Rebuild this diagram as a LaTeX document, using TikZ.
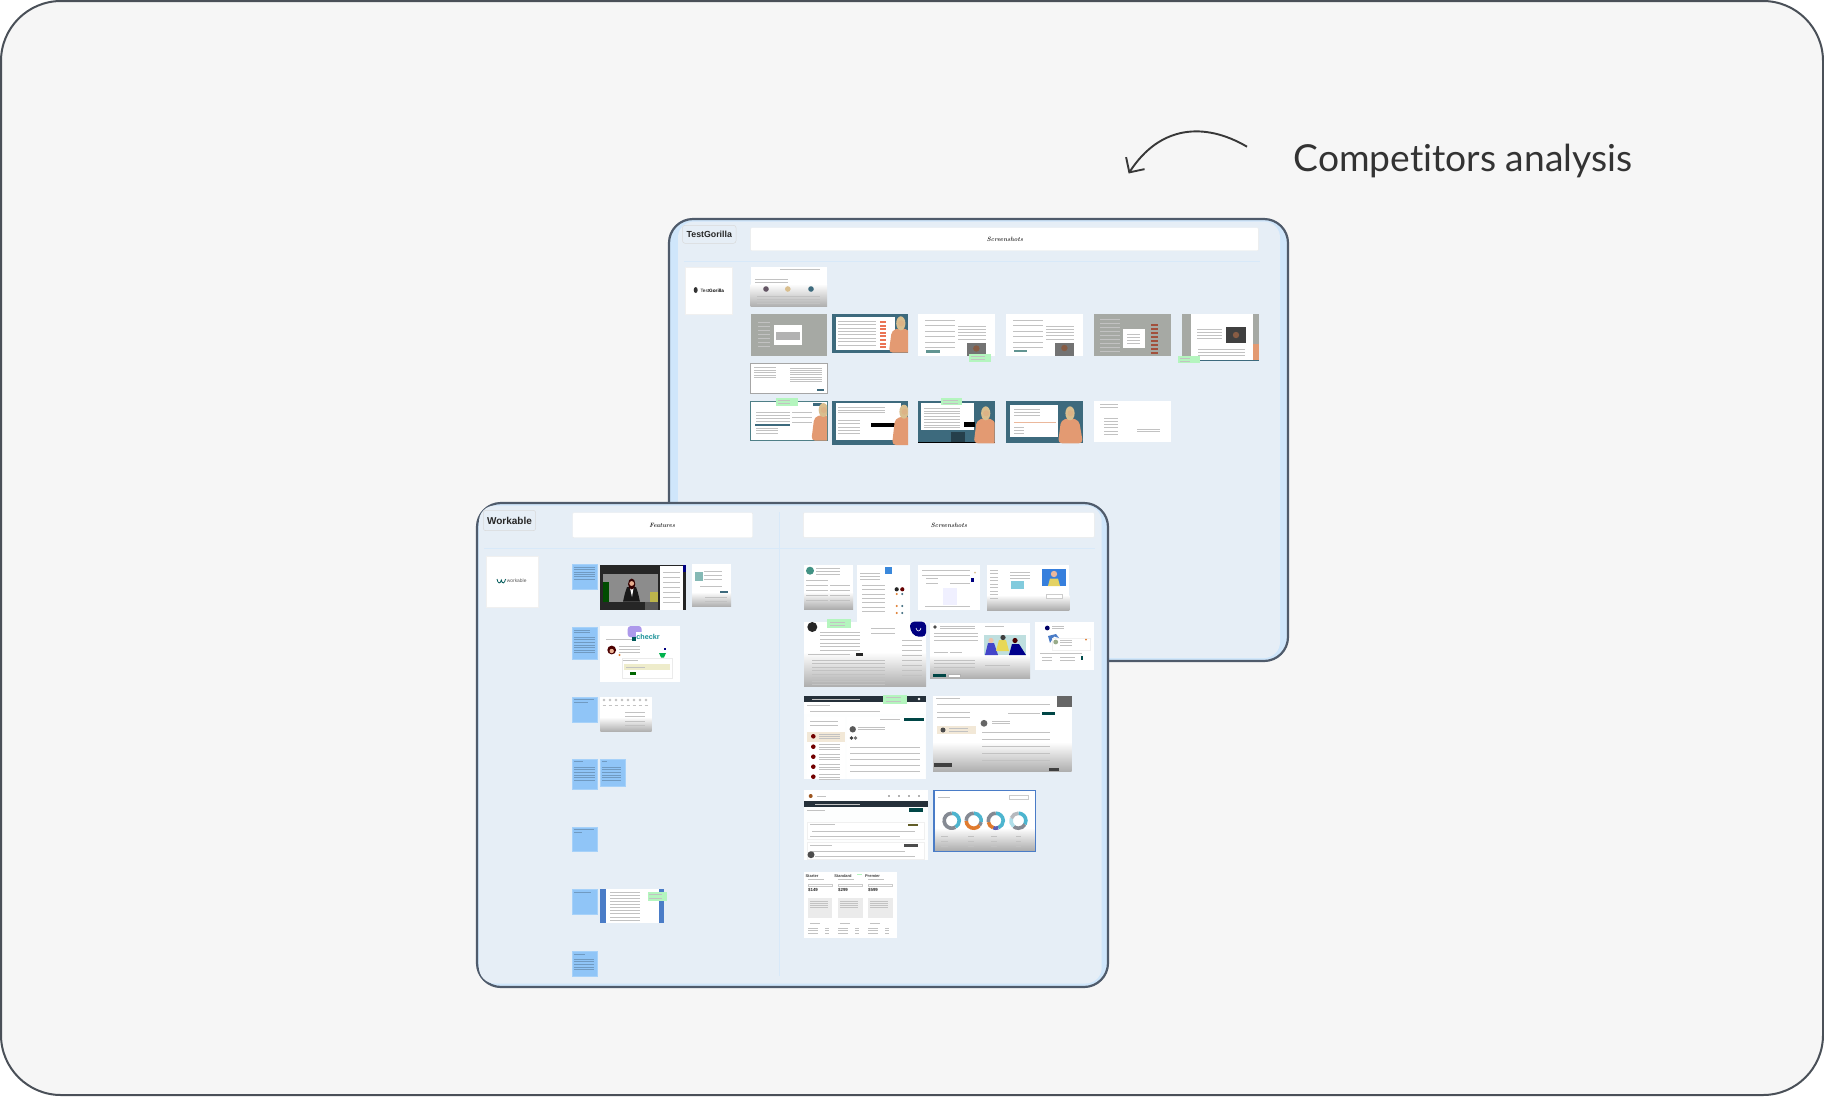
\documentclass[tikz,border=0pt]{standalone}
\usepackage{fontspec}
\setmainfont{Liberation Sans}
\newfontfamily\titlefont[Ligatures=CommonOff]{Lato}
\newfontfamily\notefont{Latin Modern Roman}
\usetikzlibrary{arrows.meta}
\definecolor{pagegray}{HTML}{F6F6F6}
\definecolor{edgegray}{HTML}{4A5058}
\definecolor{panelblue}{HTML}{E6EEF6}
\definecolor{bandblue}{HTML}{CFE6FB}
\definecolor{paneledge}{HTML}{4F5B6B}
\definecolor{notesblue}{HTML}{90C5F7}
\definecolor{notegreen}{HTML}{B4F5BE}
\definecolor{tealback}{HTML}{3D6A7D}
\definecolor{navybar}{HTML}{25303A}
\definecolor{dimgray}{HTML}{A6A9A4}
\definecolor{shirt}{HTML}{E39A72}
\definecolor{hair}{HTML}{D9BE8E}
\definecolor{ringteal}{HTML}{4DB5CF}
\definecolor{ringgray}{HTML}{858A93}
\definecolor{ringorange}{HTML}{E07B2E}
\definecolor{framblue}{HTML}{4A7CC7}
\tikzset{
  panelline/.style={draw=paneledge, fill=bandblue, line width=2.2pt, rounded corners=24pt},
  panelinner/.style={fill=panelblue, rounded corners=16pt},
  rule/.style={draw=bandblue!60!panelblue, line width=.8pt},
  tagbox/.style={draw=black!15, fill=panelblue, line width=.5pt, rounded corners=2.5pt},
  headbox/.style={draw=black!8, fill=white, line width=.4pt, rounded corners=1pt},
  logobox/.style={draw=black!6, fill=white, line width=.3pt},
  stickynote/.style={fill=notesblue, draw=notesblue!80!white, line width=.3pt},
  greennote/.style={fill=notegreen},
  shot/.style={fill=white},
  faded/.style={top color=white, bottom color=black!32},
  greekbar/.style={draw=black!24, line width=.5pt},
  notebar/.style={draw=black!22!notesblue, line width=.4pt},
  handlabel/.style={font=\notefont\bfseries\itshape\fontsize{6.2}{6}\selectfont, text=black!85, inner sep=0pt},
}
\newcommand{\greeklines}[5]{\foreach \n in {1,...,#5}{\draw[greekbar] (#1,{#3+(\n-1)*#4}) -- (#2,{#3+(\n-1)*#4});}}
\newcommand{\notelines}[5]{\foreach \n in {1,...,#5}{\draw[notebar] (#1,{#3+(\n-1)*#4}) -- (#2,{#3+(\n-1)*#4});}}
\newcommand{\avatar}[4]{\fill[#4] (#1,#2) circle[radius=#3];}
\newcommand{\fadeout}[4]{\shade[faded] (#1,#2) rectangle (#3,#4);}
\newcommand{\presenter}[4]{\begin{scope}[shift={(#1,#2)}]
  \clip (-16,-9) rectangle (#4,#3);
  \fill[shirt, rounded corners=4pt] (-12,#3) -- (-9,7) -- (0,4.5) -- (9,7) -- (13,#3) -- cycle;
  \fill[hair] (0,0) ellipse[x radius=4.6, y radius=7];
  \fill[hair!70!shirt] (.5,0) circle[radius=3];
\end{scope}}
\newcommand{\ringpart}[5]{\draw[#5, line width=3.6pt] (#1,#2) ++(#3:7.5) arc[start angle=#3, end angle=#4, radius=7.5];}
\begin{document}
\begin{tikzpicture}[x=1pt, y=-1pt]
  \useasboundingbox (0,0) rectangle (1824,1096);
  \draw[fill=pagegray, draw=edgegray, line width=2pt, rounded corners=60pt] (1,1) rectangle (1823,1095);

  \node[font=\titlefont\fontsize{37.2}{37}\selectfont, text=black!80, inner sep=0pt, anchor=base west] (title) at (1293.5,171.5) {Competitors analysis};
  \coordinate (arrowstart) at (1247,146.7);
  \coordinate (arrowend) at (1128.6,173.5);
  \draw[-{Straight Barb[length=11pt, width=22pt]}, black!78, line width=1.9pt] (arrowstart) .. controls (1205,122) and (1160,125) .. (arrowend);

  % back panel
  \draw[panelline] (669,219) rectangle (1288,661);
  \fill[panelinner] (678,221.5) rectangle (1280,658);
  \draw[tagbox] (682.5,225.3) rectangle (736,243.3);
  \node[font=\bfseries\fontsize{8.8}{9}\selectfont, text=black!85, inner sep=0pt] (gorillaname) at (709.3,234.5) {TestGorilla};
  \draw[headbox] (750.6,227.7) rectangle (1258.4,250.7);
  \node[handlabel] (gorillahead) at (1005,239) {Screenshots};
  \draw[rule] (684,261) -- (1260,261);
  \draw[logobox] (685,266.7) rectangle (732.2,314.3);
  \fill[black!80] (695.7,290) ellipse[x radius=2, y radius=3];
  \node[font=\fontsize{4.7}{5}\selectfont, inner sep=0pt] (gorillalogo) at (712.3,291) {Test\textbf{Gorilla}};

  \fill[shot] (750.6,266.7) rectangle (827,306.7);
  \fadeout{750.6}{284}{827}{306.7}
  \greeklines{755}{788}{279.5}{2.5}{2}
  \greeklines{780}{820}{269}{0}{1}
  \avatar{766}{289}{2.8}{tealback!80!red}
  \avatar{787.8}{289}{2.8}{hair}
  \avatar{811}{289}{2.8}{tealback}
  \greeklines{757}{820}{296}{3.5}{3}

  \fill[dimgray] (750.6,314.3) rectangle (827,355.7);
  \greeklines{758}{770}{322}{4}{7}
  \fill[white] (773.9,325) rectangle (802,345);
  \fill[black!30] (776,331.7) rectangle (800,340);

  \fill[tealback] (831.8,314.3) rectangle (908.2,352.7);
  \fill[white] (835.5,317.3) rectangle (894.7,350);
  \greeklines{838}{876}{321}{3.4}{8}
  \foreach \yy in {321,324.6,...,347}{\fill[shirt!75!red] (880,\yy) rectangle (886,\yy+2);}
  \presenter{900.8}{323.3}{29.4}{7.4}

  \fill[shot] (918,314.3) rectangle (994.7,355.7);
  \greeklines{925}{955}{320}{5.5}{6}
  \greeklines{958}{986}{326}{3.2}{5}
  \fill[black!55] (967,343.3) rectangle (985.7,355.7);
  \avatar{976.3}{348.5}{3.2}{shirt!60!black}
  \fill[tealback!70!notegreen] (926,350) rectangle (940,352.5);
  \fill[greennote] (969.4,354.3) rectangle (991.4,361.7);
  \greeklines{971}{985}{356.5}{2.6}{2}

  \fill[shot] (1006,314.3) rectangle (1082.9,355.7);
  \greeklines{1013}{1043}{320}{5.5}{6}
  \greeklines{1046}{1074}{326}{3.2}{5}
  \fill[black!55] (1055,342.7) rectangle (1073.9,355.7);
  \avatar{1064.4}{348}{3.2}{shirt!60!black}
  \fill[tealback!70!notegreen] (1014,349.5) rectangle (1027,352);

  \fill[dimgray] (1093.9,314.3) rectangle (1170.6,355.7);
  \greeklines{1100}{1120}{319}{4}{9}
  \foreach \yy in {324,328,...,354}{\fill[hair!60!red!70!black] (1151,\yy) rectangle (1158,\yy+2.4);}
  \fill[white] (1123.3,329) rectangle (1144.9,348.3);
  \greeklines{1127}{1140}{334}{3.2}{4}

  \fill[dimgray] (1182,314.3) rectangle (1258.8,358);
  \fill[white] (1191,314.3) rectangle (1252.7,359.5);
  \draw[tealback, line width=.8pt] (1191,360) -- (1258.8,360);
  \greeklines{1197}{1222}{329}{3.2}{4}
  \greeklines{1198}{1245}{349}{3}{3}
  \fill[black!75] (1226,327.3) rectangle (1246,342.7);
  \avatar{1236}{335}{3.2}{shirt!60!black}
  \fill[shirt] (1253,344) rectangle (1258.8,359.5);
  \fill[greennote] (1178.4,356) rectangle (1200,363.3);
  \greeklines{1180}{1190}{358.5}{2.6}{2}

  \draw[shot, draw=black!35, line width=.8pt] (750.6,363.3) rectangle (827,393.3);
  \greeklines{754}{776}{367.5}{2.5}{5}
  \greeklines{790}{822}{368}{2.2}{7}
  \fill[tealback] (817,388.5) rectangle (824,391);

  \draw[shot, draw=tealback!85!notegreen, line width=1pt] (750.6,401) rectangle (827,440.7);
  \greeklines{756}{790}{412.5}{3}{4}
  \greeklines{792}{812}{412.5}{5}{3}
  \fill[tealback] (755,424) rectangle (790,425.7);
  \greeklines{756}{778}{428}{2.5}{3}
  \fill[tealback] (813,403) rectangle (822,405.5);
  \presenter{823.3}{410}{30.7}{3.7}
  \fill[greennote] (776.3,398.3) rectangle (798,405.7);
  \greeklines{778}{790}{400.5}{2.6}{2}

  \fill[tealback] (831.8,401) rectangle (908.2,445);
  \fill[white] (835.5,402.7) rectangle (900.8,440);
  \greeklines{838}{885}{407.5}{2.6}{3}
  \greeklines{838}{860}{420}{3.4}{5}
  \fill[black] (871,422.7) rectangle (894.7,426.7);
  \presenter{904}{411.7}{33.3}{4.2}

  \fill[tealback] (918,401) rectangle (994.7,443.3);
  \fill[white] (921,403.3) rectangle (974.3,430);
  \greeklines{924}{960}{408}{2.8}{8}
  \fill[black] (964,422) rectangle (975,427);
  \fill[black] (918,441.7) rectangle (994.7,443.3);
  \fill[tealback!60!black] (950.6,431.7) rectangle (965.3,441.7);
  \presenter{985.7}{413.3}{30}{9}
  \fill[greennote] (940.8,398.3) rectangle (962.4,405);
  \greeklines{943}{958}{400.5}{2.4}{2}

  \fill[tealback] (1006,401) rectangle (1082.9,443.3);
  \fill[white] (1010,405) rectangle (1058,436.7);
  \greeklines{1014}{1040}{409}{3.2}{3}
  \fill[shirt!70!white] (1014,422) rectangle (1056,423.3);
  \greeklines{1014}{1024}{427}{3.2}{3}
  \presenter{1070}{413.3}{30}{12.9}

  \fill[shot] (1093.9,401) rectangle (1170.6,442.3);
  \greeklines{1100}{1118}{404.5}{3.2}{2}
  \greeklines{1104}{1118}{418}{3.2}{6}
  \greeklines{1137}{1160}{429}{2.5}{2}

  % front panel
  \draw[panelline] (477,503) rectangle (1108,987);
  \fill[panelinner] (479,505.5) rectangle (1101.7,983.5);
  \draw[tagbox] (483.3,510.3) rectangle (535.7,530.7);
  \node[font=\bfseries\fontsize{10}{10}\selectfont, text=black!85, inner sep=0pt] (workablename) at (509.5,520.5) {Workable};
  \draw[headbox] (572.7,512.7) rectangle (752.7,537.7);
  \node[handlabel] (featurehead) at (662.3,525) {Features};
  \draw[headbox] (803.3,512.7) rectangle (1094.3,537.3);
  \node[handlabel] (workablehead) at (949,525) {Screenshots};
  \draw[rule] (484,548.3) -- (1095,548.3);
  \draw[rule] (779.3,512) -- (779.3,976);
  \draw[logobox] (485.7,555.7) rectangle (537.7,607.3);
  \draw[teal!70!black, line width=.8pt] (497,579) .. controls (497.8,584) and (500.5,584) .. (501.3,580) .. controls (502,584) and (504.7,584) .. (505.5,579);
  \node[font=\fontsize{4.9}{5}\selectfont, text=black!65, inner sep=0pt] (workablelogo) at (516.7,581.2) {workable};

  \draw[stickynote] (572.3,564.3) rectangle (597,589.3);
  \notelines{574}{595}{567}{2.4}{6}
  \draw[stickynote] (572.3,627) rectangle (597,659);
  \notelines{574}{590}{630}{2.2}{2}
  \notelines{574}{595}{637}{2.6}{7}
  \draw[stickynote] (572.3,696.7) rectangle (597,721.7);
  \notelines{574}{594}{699}{3}{1}
  \notelines{574}{588}{702}{3}{1}
  \draw[stickynote] (572.3,759.3) rectangle (597,788.7);
  \notelines{574}{583}{761.5}{3}{1}
  \notelines{574}{595}{767}{2.6}{6}
  \draw[stickynote] (600.3,759.3) rectangle (625,786.3);
  \notelines{602}{607}{761.5}{3}{1}
  \notelines{602}{621}{767}{2.6}{6}
  \draw[stickynote] (572.3,826.7) rectangle (597,851.3);
  \notelines{574}{594}{829.5}{3}{1}
  \notelines{574}{582}{832.5}{3}{1}
  \draw[stickynote] (572.3,889) rectangle (597,914);
  \notelines{574}{591}{892}{3}{1}
  \draw[stickynote] (572.3,951.3) rectangle (597,976);
  \notelines{574}{585}{954}{3}{1}
  \notelines{574}{594}{959}{2.6}{5}

  \fill[black!85] (600.3,565) rectangle (686,610);
  \fill[black!45!white] (603.3,574) rectangle (658.3,601.7);
  \fill[black!70!green] (603,582) rectangle (609,601.7);
  \fill[olive!60!white] (650,592) rectangle (658,601.7);
  \fill[white] (660,565.7) rectangle (683.3,610);
  \fill[blue!50!black] (683.3,565) rectangle (686,572);
  \greeklines{663}{680}{572}{5}{7}
  \fill[black!65] (645,601.7) rectangle (658.3,610);
  \fill[black!90] (625,593) -- (627,587) -- (636,587) -- (638,593) -- (640,601.7) -- (623,601.7) -- cycle;
  \fill[white] (630,588) -- (633.5,588) -- (632,597) -- cycle;
  \fill[black!80!red] (631.7,584) ellipse[x radius=3.6, y radius=5.5];
  \avatar{631.7}{583.5}{2.4}{shirt!80!white}

  \fill[shot] (692,564.3) rectangle (731,606.7);
  \fadeout{692}{592}{731}{606.7}
  \fill[ringteal!60!hair] (695,572.3) rectangle (702.7,581);
  \greeklines{704}{722}{571}{4}{3}
  \greeklines{700}{722}{586}{4}{1}
  \fill[tealback] (720,591) rectangle (727.7,592.7);
  \greeklines{705}{727}{597}{4}{2}

  \fill[shot] (600.3,626) rectangle (680,682);
  \fill[violet!40!blue!40!white, rounded corners=3pt] (627.7,626) rectangle (641.7,637.3);
  \greeklines{606}{632}{639}{0}{1}
  \fill[teal!70!black] (632,637) rectangle (636,641);
  \fill[white] (635.7,631.7) rectangle (660,643.3);
  \node[font=\bfseries\fontsize{7.2}{7}\selectfont, text=teal!70!ringteal, inner sep=0pt] (checkrname) at (648,637.3) {checkr};
  \avatar{611.7}{650}{4.4}{black!70!red}
  \avatar{611.7}{651}{2.2}{shirt!75!white}
  \greeklines{619}{640}{646}{3.2}{3}
  \avatar{619.5}{655}{1.1}{ringorange}
  \fill[teal!60!green] (659,653) -- (666,653) -- (664,657.5) -- (661,657.5) -- cycle;
  \fill[blue!50!black] (664,648) rectangle (666,650);
  \draw[draw=black!8, fill=white, line width=.3pt] (621.7,658.3) rectangle (672.3,678.3);
  \greeklines{623}{638}{660}{0}{1}
  \fill[olive!15!white] (624,664) rectangle (670,670);
  \greeklines{626}{645}{667}{0}{1}
  \fill[green!40!black] (630,672.3) rectangle (636,675);

  \fill[shot] (600.3,696.7) rectangle (651.7,731.7);
  \fadeout{600.3}{717}{651.7}{731.7}
  \foreach \xx in {604,610,...,646}{\avatar{\xx}{700}{1.3}{black!25}
    \draw[greekbar] (\xx-1.5,705) -- (\xx+1.5,705);}
  \greeklines{625}{645}{712}{4.5}{4}

  \fill[framblue] (600.3,889) rectangle (663.7,923.3);
  \fill[white] (606.3,889) rectangle (659,923.3);
  \greeklines{610}{640}{892}{3.1}{10}
  \fill[greennote] (647.7,892) rectangle (667.3,900.7);
  \greeklines{649}{662}{894}{3.8}{2}

  \fill[shot] (804,565.3) rectangle (853,609);
  \fadeout{804}{592}{853}{609}
  \avatar{810}{570.7}{4}{teal!70!hair}
  \greeklines{816}{840}{568}{3}{3}
  \greeklines{806}{828}{580}{5}{5}
  \greeklines{830}{850}{585}{5}{4}

  \fill[shot] (856.7,564.7) rectangle (910,621.7);
  \fill[ringteal!75!blue] (885.3,567) rectangle (892,574);
  \greeklines{860}{880}{573}{3}{3}
  \greeklines{862}{885}{585}{4.4}{7}
  \avatar{896.7}{589.3}{2.1}{black!85}
  \avatar{902.3}{589.3}{2.1}{black!60!red}
  \foreach \yy in {594,606,613}{\avatar{896.7}{\yy}{1.1}{ringorange}\avatar{902.3}{\yy}{1.1}{tealback}}

  \fill[shot] (917.7,564.7) rectangle (980,610);
  \fill[blue!6] (943.3,588) rectangle (956.7,605);
  \greeklines{922}{970}{570}{5}{2}
  \greeklines{926}{938}{578}{5}{2}
  \greeklines{950}{970}{583}{0}{1}
  \greeklines{925}{970}{606}{0}{1}
  \fill[blue!50!black] (971,577.7) rectangle (974,582);
  \avatar{975}{572.7}{1}{hair}

  \fill[shot] (987,564.7) rectangle (1069.3,610);
  \fadeout{987}{595}{1069.3}{610}
  \fill[ringteal!70!blue] (1042.3,569.3) rectangle (1065.7,586);
  \avatar{1054}{574}{3.2}{shirt!70!white}
  \fill[hair!70!yellow] (1048,586) -- (1050,578.5) -- (1058,578.5) -- (1060,586) -- cycle;
  \fill[ringteal!70!white] (1011,581) rectangle (1024.3,589.3);
  \greeklines{990}{998}{570}{3.5}{9}
  \greeklines{1010}{1030}{572}{3}{3}
  \fill[white, draw=black!20, line width=.3pt] (1046,594) rectangle (1062,598);

  \fill[shot] (804,621.7) rectangle (926,686.7);
  \fadeout{804}{652}{926}{686.7}
  \avatar{812.3}{627}{5}{black!85}
  \greeklines{820}{860}{632}{3.6}{6}
  \greeklines{871}{895}{628}{5}{2}
  \greeklines{808}{850}{654}{0}{1}
  \fill[black!85] (856,653) rectangle (862.7,656);
  \greeklines{812}{885}{660}{3.5}{8}
  \greeklines{902}{922}{640}{5}{8}
  \fill[greennote] (827,619.3) rectangle (851,628.3);
  \greeklines{830}{845}{622}{3}{2}
  \fill[blue!50!black, rounded corners=4pt] (926,621.7) -- (910,621.7) -- (910,630) -- (915,636.7) -- (926,636.7) -- cycle;
  \draw[white, line width=.6pt] (916,628) .. controls (917,632) and (920,632) .. (921,628);

  \fill[shot] (930,623.3) rectangle (1030,678.7);
  \fadeout{930}{655}{1030}{678.7}
  \avatar{935}{627}{1.8}{black!70}
  \greeklines{940}{975}{626}{2.6}{2}
  \greeklines{934}{978}{633}{3.4}{3}
  \greeklines{934}{948}{652}{0}{1}
  \greeklines{950}{962}{652}{0}{1}
  \greeklines{934}{975}{660}{3.5}{3}
  \greeklines{985}{1004}{626}{0}{1}
  \greeklines{985}{1010}{665}{0}{1}
  \fill[teal!25!white] (984,635) rectangle (1026,655);
  \fill[blue!50!ringgray] (985,655) -- (988,643) -- (994,643) -- (998,655) -- cycle;
  \avatar{991}{640.5}{2.6}{shirt!60!white}
  \fill[hair!60!yellow] (996,651) -- (999,640) -- (1006,640) -- (1009,651) -- cycle;
  \avatar{1003}{637.5}{2.6}{black!75}
  \fill[blue!55!black] (1009,655) -- (1012,644) -- (1019,644) -- (1026,655) -- cycle;
  \avatar{1015}{640.5}{2.6}{black!70!red}
  \fill[teal!55!black] (933.3,673.7) rectangle (945.7,676.7);
  \draw[draw=black!30, fill=white, line width=.3pt] (948,673.7) rectangle (960,676.7);

  \fill[shot] (1035.3,622) rectangle (1094,670);
  \avatar{1047.3}{628}{2.4}{blue!40!black}
  \greeklines{1052}{1064}{626}{2.5}{2}
  \fill[framblue] (1048,636) -- (1056,634) -- (1059,638) -- (1054,636.5) -- (1050,643) -- cycle;
  \draw[draw=black!6, fill=white, line width=.3pt] (1052,638) rectangle (1090,650);
  \avatar{1055.7}{642}{2.4}{hair!70!teal}
  \greeklines{1060}{1072}{640}{2.5}{3}
  \avatar{1086}{639.5}{1}{ringorange}
  \greeklines{1040}{1082}{653}{0}{1}
  \greeklines{1042}{1052}{657}{3}{2}
  \greeklines{1060}{1075}{657}{3}{2}
  \fill[teal!60!black] (1081,655.7) rectangle (1083.3,660);

  \fill[white!92!panelblue] (804,696) rectangle (926,779.3);
  \fill[navybar] (804,696) rectangle (926,701.7);
  \greeklines{812}{860}{698.8}{0}{1}
  \fill[white] (804,701.7) rectangle (926,714);
  \greeklines{807}{830}{705.5}{0}{1}
  \greeklines{810}{880}{711}{0}{1}
  \fill[white] (807.3,717) rectangle (845,779.3);
  \fill[white] (846.7,717) rectangle (925,779.3);
  \fill[hair!35!white] (807.3,732.3) rectangle (845,742.3);
  \foreach \yy in {736.3,746.7,756.7,766.7,776.7}{\avatar{813.3}{\yy}{2.3}{black!55!red}
    \greeklines{819}{840}{\yy-2}{2.2}{3}}
  \greeklines{810}{838}{721}{4}{2}
  \avatar{852.7}{729.3}{3.2}{black!65}
  \greeklines{858}{885}{727}{2.5}{2}
  \fill[teal!55!black] (904,718.3) rectangle (924,721);
  \greeklines{880}{900}{719.5}{0}{1}
  \greeklines{850}{920}{747}{6}{5}
  \avatar{851.5}{738}{1.8}{black!75}
  \avatar{855.5}{738}{1.8}{black!55}
  \fill[greennote] (883.3,695) rectangle (907.3,704);
  \greeklines{886}{901}{697.5}{3.5}{2}
  \avatar{919}{699}{1.3}{white}

  \fill[shot] (933,696) rectangle (1071.7,771.7);
  \fadeout{933}{742}{1071.7}{771.7}
  \greeklines{936}{960}{698.5}{0}{1}
  \greeklines{937}{1050}{704}{0}{1}
  \fill[hair!35!white] (936.7,726) rectangle (975.7,734.3);
  \avatar{943}{730}{2.5}{black!70}
  \greeklines{937}{970}{712}{5}{2}
  \greeklines{949}{968}{728.5}{2.5}{2}
  \avatar{984}{723.3}{3.4}{black!60}
  \greeklines{992}{1010}{721}{2.6}{2}
  \fill[teal!55!black] (1041.7,712) rectangle (1055.3,715);
  \greeklines{1008}{1040}{713.5}{0}{1}
  \greeklines{982}{1050}{732}{7}{5}
  \fill[black!60] (1056.7,696) rectangle (1071.7,707.3);
  \fill[black!75] (934,763.3) rectangle (952.3,767.3);
  \fill[black!75] (1049.3,768.3) rectangle (1059.3,770.7);

  \fill[white!92!panelblue] (804,790) rectangle (927.7,860);
  \fill[white] (804,790) rectangle (927.7,801.3);
  \fill[navybar] (804,801.3) rectangle (927.7,806.7);
  \greeklines{815}{860}{804}{0}{1}
  \avatar{810.7}{796}{2}{ringorange!70!black}
  \greeklines{817}{826}{796}{0}{1}
  \foreach \xx in {889,899,909,919}{\avatar{\xx}{796}{.9}{black!60}}
  \greeklines{807}{825}{810}{0}{1}
  \fill[teal!55!black] (909,808.3) rectangle (923.3,811.7);
  \draw[shot, draw=black!6, line width=.3pt] (807,821.7) rectangle (924,839.3);
  \draw[shot, draw=black!6, line width=.3pt] (807,842) rectangle (924,859.3);
  \greeklines{810}{835}{824.5}{0}{1}
  \fill[olive!60!black] (907.7,823.7) rectangle (917.7,826);
  \greeklines{812}{915}{831.5}{0}{1}
  \greeklines{810}{900}{836.5}{0}{1}
  \greeklines{810}{832}{845}{0}{1}
  \fill[black!70] (904.3,844.3) rectangle (917.7,847);
  \greeklines{812}{905}{851}{0}{1}
  \greeklines{815}{915}{856.5}{0}{1}
  \avatar{811}{854.7}{3.5}{black!70}

  \draw[shot, draw=framblue, line width=1.2pt] (933.3,790.3) rectangle (1035.4,851);
  \fadeout{934}{828}{1034.8}{850.4}
  \fill[framblue] (933,790) rectangle (935,851);
  \greeklines{938}{950}{797}{0}{1}
  \draw[black!20, line width=.3pt] (1009,795) rectangle (1028,799);
  \ringpart{951.7}{820.7}{-90}{60}{ringteal}
  \ringpart{951.7}{820.7}{60}{270}{ringgray}
  \ringpart{973.7}{820.7}{-90}{10}{ringteal}
  \ringpart{973.7}{820.7}{10}{40}{ringgray}
  \ringpart{973.7}{820.7}{40}{180}{ringorange}
  \ringpart{973.7}{820.7}{180}{270}{ringgray}
  \ringpart{995.7}{820.7}{-90}{70}{ringteal}
  \ringpart{995.7}{820.7}{70}{110}{ringgray!70!blue}
  \ringpart{995.7}{820.7}{110}{170}{ringorange}
  \ringpart{995.7}{820.7}{170}{270}{ringgray}
  \ringpart{1018.4}{820.7}{-90}{30}{ringteal}
  \ringpart{1018.4}{820.7}{30}{130}{ringgray}
  \ringpart{1018.4}{820.7}{130}{200}{ringteal!45!white}
  \ringpart{1018.4}{820.7}{200}{270}{ringgray!60!white}
  \foreach \yy in {836,841,846}{\greeklines{941}{948}{\yy}{0}{1}
    \greeklines{968}{974}{\yy}{0}{1}\greeklines{991}{997}{\yy}{0}{1}\greeklines{1016}{1021}{\yy}{0}{1}}

  \fill[shot] (804,872) rectangle (896.7,937.7);
  \node[font=\bfseries\fontsize{4}{4}\selectfont, text=black!75, inner sep=0pt] (planstarter) at (812,875.7) {Starter};
  \node[font=\bfseries\fontsize{4}{4}\selectfont, text=black!75, inner sep=0pt] (planstandard) at (843,875.7) {Standard};
  \node[font=\bfseries\fontsize{4}{4}\selectfont, text=black!75, inner sep=0pt] (planpremier) at (872.5,875.7) {Premier};
  \fill[notegreen] (857,873.5) rectangle (862,875);
  \node[font=\bfseries\fontsize{4.4}{4}\selectfont, text=black!85, inner sep=0pt] (pricestarter) at (813,890.3) {\$149};
  \node[font=\bfseries\fontsize{4.4}{4}\selectfont, text=black!85, inner sep=0pt] (pricestandard) at (843,890.3) {\$299};
  \node[font=\bfseries\fontsize{4.4}{4}\selectfont, text=black!85, inner sep=0pt] (pricepremier) at (873,890.3) {\$599};
  \foreach \xx in {808,838.3,868.3}{
    \greeklines{\xx}{\xx+16}{879.5}{0}{1}
    \draw[draw=black!20, line width=.3pt] (\xx,884) rectangle (\xx+24,886);
    \fill[black!8] (\xx,898.3) rectangle (\xx+24.3,917.7);
    \greeklines{\xx+2}{\xx+20}{901}{2}{4}
    \greeklines{\xx+2}{\xx+12}{923}{0}{1}
    \greeklines{\xx}{\xx+10}{928}{2.4}{3}
    \greeklines{\xx+17}{\xx+21}{928}{2.4}{3}}
\end{tikzpicture}
\end{document}
